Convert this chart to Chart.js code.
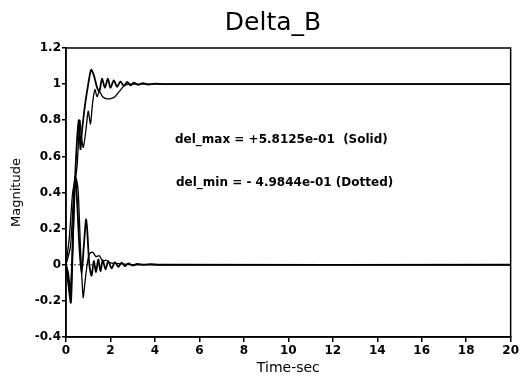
<!DOCTYPE html>
<html>
<head>
<meta charset="utf-8">
<script src="https://cdn.jsdelivr.net/npm/chart.js@4.4.0/dist/chart.umd.min.js"></script>
<style>
  html, body { margin: 0; padding: 0; background: #fff; }
  #wrap { width: 521px; height: 382px; }
</style>
</head>
<body>
<div id="wrap"><canvas id="deltaChart" width="521" height="382"></canvas></div>
<script>
// time axis ticks / value axis ticks
const xTicks = [0, 2, 4, 6, 8, 10, 12, 14, 16, 18, 20];
const yTicks = [-0.4, -0.2, 0, 0.2, 0.4, 0.6, 0.8, 1, 1.2];

// upper response with overshoot
const upperT = [0, 0.1, 0.2, 0.3, 0.4, 0.5, 0.58, 0.65, 0.72, 0.85, 1.0, 1.13, 1.25, 1.4, 1.5, 1.62, 1.75, 1.88, 2.0, 2.15, 2.3, 2.45, 2.6, 2.75, 2.9, 3.05, 3.25, 3.45, 3.7, 4.0, 4.4, 20];
const upperY = [0, -0.05, -0.15, 0.1, 0.45, 0.7, 0.8, 0.64, 0.74, 0.88, 1.0, 1.08, 1.05, 0.98, 0.96, 1.03, 0.98, 1.03, 0.98, 1.02, 0.985, 1.015, 0.99, 1.012, 0.993, 1.008, 0.996, 1.006, 0.998, 1.003, 1.0, 1.0];

// upper response, slower one
const upper2T = [0, 0.2, 0.35, 0.5, 0.62, 0.7, 0.78, 0.9, 1.0, 1.1, 1.2, 1.3, 1.4, 1.5, 1.65, 1.8, 2.0, 2.2, 2.4, 2.6, 2.8, 3.0, 3.5, 20];
const upper2Y = [0, 0.1, 0.4, 0.55, 0.8, 0.7, 0.65, 0.75, 0.85, 0.78, 0.9, 0.97, 0.93, 0.96, 0.93, 0.92, 0.92, 0.93, 0.96, 0.99, 1.0, 1.0, 1.0, 1.0];

// lower responses settling to zero
const lowerT = [0, 0.1, 0.22, 0.3, 0.38, 0.42, 0.5, 0.6, 0.7, 0.8, 0.9, 0.95, 1.05, 1.15, 1.25, 1.35, 1.45, 1.55, 1.65, 1.78, 1.9, 2.05, 2.2, 2.35, 2.5, 2.65, 2.8, 3.0, 3.2, 3.5, 3.8, 4.2, 20];
const lowerY = [0, -0.1, -0.21, 0.1, 0.45, 0.49, 0.35, 0.1, -0.05, 0.1, 0.25, 0.2, 0, -0.06, 0.02, -0.04, 0.03, -0.035, 0.025, -0.025, 0.02, -0.02, 0.015, -0.012, 0.012, -0.008, 0.008, -0.004, 0.005, 0, 0.003, 0, 0];

const lower2T = [0, 0.15, 0.3, 0.45, 0.55, 0.65, 0.77, 0.85, 0.95, 1.05, 1.2, 1.35, 1.5, 1.65, 1.8, 2.0, 2.5, 3.0, 20];
const lower2Y = [0, 0.15, 0.4, 0.48, 0.4, 0.1, -0.18, -0.1, 0.0, 0.06, 0.07, 0.045, 0.05, 0.02, 0.025, 0.01, 0.005, 0, 0];

// dotted zero reference near the start
const zeroT = [0, 1.2];
const zeroY = [0, 0];

// title and annotation texts
const titleText = 'Delta_B';
const noteMax = 'del_max = +5.8125e-01  (Solid)';
const noteMin = 'del_min = - 4.9844e-01 (Dotted)';

function toPoints(ts, ys) {
  return ts.map((t, i) => ({ x: t, y: ys[i] }));
}

// frame round the plot area, title and text notes
const framePlugin = {
  id: 'frame',
  afterDatasetsDraw(chart) {
    const { ctx, chartArea: a } = chart;
    ctx.save();
    ctx.strokeStyle = '#000';
    ctx.lineWidth = 1.5;
    ctx.strokeRect(a.left, a.top, a.right - a.left, a.bottom - a.top);
    ctx.fillStyle = '#000';
    ctx.textBaseline = 'alphabetic';
    ctx.textAlign = 'center';
    ctx.font = '25px "DejaVu Sans", sans-serif';
    ctx.fillText(titleText, 273, 30);
    ctx.textAlign = 'left';
    ctx.textBaseline = 'middle';
    ctx.font = 'bold 12px "DejaVu Sans", sans-serif';
    ctx.fillText(noteMax, 175, 140);
    ctx.fillText(noteMin, 176, 183);
    ctx.restore();
  }
};

const lineStyle = (data, w, dash) => ({
  data: data,
  borderColor: '#000',
  borderWidth: w,
  borderDash: dash || [],
  pointRadius: 0,
  tension: 0.25,
  fill: false
});

const tickFont = { family: '"DejaVu Sans", sans-serif', size: 12, weight: 'bold' };

new Chart(document.getElementById('deltaChart'), {
  type: 'line',
  data: {
    datasets: [
      lineStyle(toPoints(upperT, upperY), 1.8),
      lineStyle(toPoints(upper2T, upper2Y), 1.3),
      lineStyle(toPoints(lowerT, lowerY), 1.8),
      lineStyle(toPoints(lower2T, lower2Y), 1.3),
      lineStyle(toPoints(zeroT, zeroY), 0.8, [2, 2])
    ]
  },
  options: {
    responsive: false,
    animation: false,
    layout: { padding: { left: 0, right: 9, top: 48, bottom: 0 } },
    plugins: {
      legend: { display: false },
      tooltip: { enabled: false },
      title: { display: false }
    },
    scales: {
      x: {
        type: 'linear',
        min: 0, max: 20,
        afterBuildTicks: s => { s.ticks = xTicks.map(v => ({ value: v })); },
        afterFit: s => { s.height = 45; },
        grid: { drawOnChartArea: false, drawTicks: true, tickLength: 5, color: '#000', lineWidth: 1.5 },
        border: { color: '#000', width: 1.5 },
        ticks: { color: '#000', padding: 2, maxRotation: 0, font: tickFont },
        title: { display: true, text: 'Time-sec', color: '#000', padding: { top: 0, bottom: 5 },
                 font: { family: '"DejaVu Sans", sans-serif', size: 14 } }
      },
      y: {
        min: -0.4, max: 1.2,
        afterBuildTicks: s => { s.ticks = yTicks.map(v => ({ value: v })); },
        afterFit: s => { s.width = 66; },
        grid: { drawOnChartArea: false, drawTicks: true, tickLength: 4, color: '#000', lineWidth: 1.5 },
        border: { color: '#000', width: 1.5 },
        ticks: { color: '#000', padding: 1, font: tickFont,
                 callback: v => String(Math.round(v * 10) / 10) },
        title: { display: true, text: 'Magnitude', color: '#000', padding: { top: 9, bottom: 0 },
                 font: { family: '"DejaVu Sans", sans-serif', size: 13 } }
      }
    }
  },
  plugins: [framePlugin]
});
</script>
</body>
</html>
